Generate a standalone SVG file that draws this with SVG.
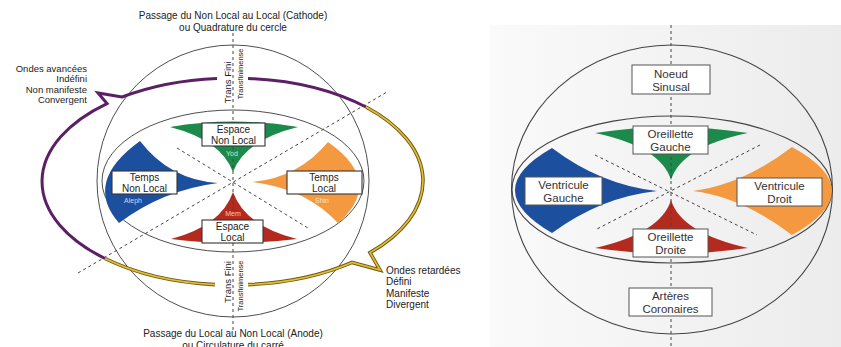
<svg xmlns="http://www.w3.org/2000/svg" width="841" height="347" viewBox="0 0 841 347">
<defs>
<linearGradient id="bg" x1="0" y1="0" x2="1" y2="0">
<stop offset="0" stop-color="#fafafa"/>
<stop offset="1" stop-color="#ececec"/>
</linearGradient>
<style>
.ol{fill:none;stroke:#3a3a3a;stroke-width:0.9}
.olr{fill:none;stroke:#444;stroke-width:1.1}
.dash{fill:none;stroke:#444;stroke-width:1;stroke-dasharray:3 3}
.box{fill:#fff;stroke:#333;stroke-width:1.1}
.boxr{fill:#fff;stroke:#555;stroke-width:1}
.t{font-family:"Liberation Sans",Arial,sans-serif;fill:#222}
.c{text-anchor:middle}
.e{text-anchor:end}
.lb{font-size:10px}
.rb{font-size:11.5px;fill:#333}
.sm{font-size:7px}
.cap{font-size:10px}
.purple{fill:none;stroke:#5c1f66;stroke-width:3;stroke-linejoin:miter}
.goldo{fill:none;stroke:#6e5c18;stroke-width:3.6;stroke-linejoin:miter}
.goldi{fill:none;stroke:#e8bc34;stroke-width:1.6;stroke-linejoin:miter}
</style>
</defs>
<rect width="841" height="347" fill="#fff"/>

<!-- LEFT PANEL -->
<g id="left-frame">
<circle class="ol" cx="233" cy="181" r="136"/>
<ellipse class="ol" cx="233" cy="181" rx="131" ry="71"/>
</g>

<g id="left-wedges">
<path id="wedge-green" fill="#1b8a4a" d="M170,127 Q233,116 298,127 Q245,140 233,172 Q221,140 170,127 Z"/>
<path id="wedge-red" fill="#b52a1e" d="M171,239 Q233,247 297,239 Q245,226 233,192 Q221,226 171,239 Z"/>
<path id="wedge-blue" fill="#1d4f9f" d="M140,141 Q170,180 218,183 Q163,190 119,223 Q83,182 140,141 Z"/>
<path id="wedge-orange" fill="#f4993f" d="M328,142 Q298,178 252,182 Q305,188 338,223 Q385,182 328,142 Z"/>
</g>

<g id="connectors">
<line class="dash" x1="233" y1="33" x2="233" y2="330"/>
<line class="dash" x1="78" y1="273" x2="387" y2="92"/>
<line class="dash" x1="177" y1="148" x2="308" y2="228"/>
<path class="purple" d="M366,107 A190,103.5 0 0 0 248,78.4 M217,78.4 A190,103.5 0 0 0 122,97 L98,93 L107,103.6 A190,103.5 0 0 0 105,258.5"/>
<path class="goldo" d="M105,258.5 A190,103.5 0 0 0 215,284.6 M248,284.6 A190,103.5 0 0 0 352,262.4 L380,270 L370,252.6 A190,103.5 0 0 0 366,107"/>
<path class="goldi" d="M105,258.5 A190,103.5 0 0 0 215,284.6 M248,284.6 A190,103.5 0 0 0 352,262.4 L380,270 L370,252.6 A190,103.5 0 0 0 366,107"/>
</g>

<g id="node-espace-non-local">
<rect class="box" x="202" y="123" width="63" height="23"/>
<text class="t c lb" x="233.5" y="133">Espace</text>
<text class="t c lb" x="233.5" y="143.5">Non Local</text>
<text class="t c sm" x="232" y="155.5" style="fill:#cfe6d2">Yod</text>
</g>
<g id="node-temps-non-local">
<rect class="box" x="112" y="171" width="65" height="23"/>
<text class="t c lb" x="144.5" y="181">Temps</text>
<text class="t c lb" x="144.5" y="191.5">Non Local</text>
<text class="t c sm" x="133" y="202.5" style="fill:#c8d6f0">Aleph</text>
</g>
<g id="node-temps-local">
<rect class="box" x="287" y="171" width="75" height="23"/>
<text class="t c lb" x="324" y="181">Temps</text>
<text class="t c lb" x="324" y="191.5">Local</text>
<text class="t c sm" x="322" y="202.5" style="fill:#fde2c4">Shin</text>
</g>
<g id="node-espace-local">
<text class="t c sm" x="233" y="215.5" style="fill:#f4c8bc">Mem</text>
<rect class="box" x="202" y="220" width="61" height="23"/>
<text class="t c lb" x="232.5" y="230">Espace</text>
<text class="t c lb" x="232.5" y="240.5">Local</text>
</g>

<g id="node-trans-fini-top">
<text class="t c" style="font-size:9.5px" transform="translate(230.5,82.5) rotate(-90)">Trans Fini</text>
<text class="t c" style="font-size:7.5px" transform="translate(242.5,74) rotate(-90)">Transfinimense</text>
</g>
<g id="node-trans-fini-bottom">
<text class="t c" style="font-size:9.5px" transform="translate(230.5,282) rotate(-90)">Trans Fini</text>
<text class="t c" style="font-size:7.5px" transform="translate(242.5,286) rotate(-90)">Transfinimense</text>
</g>

<g id="node-cathode">
<text class="t c cap" x="233" y="19">Passage du Non Local au Local (Cathode)</text>
<text class="t c cap" x="233" y="31">ou Quadrature du cercle</text>
</g>
<g id="node-anode">
<text class="t c cap" x="233" y="337">Passage du Local au Non Local (Anode)</text>
<text class="t c cap" x="233" y="348.5">ou Circulature du carré</text>
</g>
<g id="node-ondes-avancees">
<text class="t e" style="font-size:9.5px" x="87" y="71.5">Ondes avancées</text>
<text class="t e" style="font-size:9.5px" x="87" y="82">Indéfini</text>
<text class="t e" style="font-size:9.5px" x="87" y="92.5">Non manifeste</text>
<text class="t e" style="font-size:9.5px" x="87" y="103">Convergent</text>
</g>
<g id="node-ondes-retardees">
<text class="t" style="font-size:10px" x="386" y="273.5">Ondes retardées</text>
<text class="t" style="font-size:10px" x="386" y="285">Défini</text>
<text class="t" style="font-size:10px" x="386" y="296.5">Manifeste</text>
<text class="t" style="font-size:10px" x="386" y="308">Divergent</text>
</g>

<!-- RIGHT PANEL -->
<g id="right-frame">
<rect x="490" y="25" width="351" height="322" fill="url(#bg)"/>
<ellipse class="olr" cx="672" cy="189.5" rx="160.5" ry="144.5"/>
<ellipse class="olr" cx="672" cy="189.5" rx="160" ry="73.5"/>
</g>
<g id="right-wedges">
<path id="r-green" fill="#1b8a4a" d="M595,133 Q671,121 748,133 Q681,147 671,180 Q661,147 595,133 Z"/>
<path id="r-red" fill="#b52a1e" d="M595,248 Q671,259 748,248 Q681,233 671,200 Q661,233 595,248 Z"/>
<path id="r-blue" fill="#1d4f9f" d="M552,148 Q601,185 657,191 Q601,197 552,233 Q478,190 552,148 Z"/>
<path id="r-orange" fill="#f4993f" d="M792,147 Q742,185 693,191 Q742,197 792,235 Q872,191 792,147 Z"/>
</g>
<g id="right-connectors">
<line class="dash" x1="671" y1="25" x2="671" y2="347"/>
<line class="dash" x1="595" y1="155" x2="757" y2="235"/>
<line class="dash" x1="760" y1="145" x2="595" y2="230"/>
</g>
<g id="node-noeud-sinusal">
<rect class="boxr" x="632" y="65" width="78" height="29"/>
<text class="t c rb" x="671" y="77.5">Noeud</text>
<text class="t c rb" x="671" y="90.5">Sinusal</text>
</g>
<g id="node-oreillette-gauche">
<rect class="boxr" x="633" y="126" width="75" height="28"/>
<text class="t c rb" x="670.5" y="137.5">Oreillette</text>
<text class="t c rb" x="670.5" y="150.5">Gauche</text>
</g>
<g id="node-ventricule-gauche">
<rect class="boxr" x="525" y="177" width="77" height="28"/>
<text class="t c rb" x="563.5" y="188.5">Ventricule</text>
<text class="t c rb" x="563.5" y="201.5">Gauche</text>
</g>
<g id="node-ventricule-droit">
<rect class="boxr" x="737" y="178" width="85" height="28"/>
<text class="t c rb" x="779.5" y="189.5">Ventricule</text>
<text class="t c rb" x="779.5" y="202.5">Droit</text>
</g>
<g id="node-oreillette-droite">
<rect class="boxr" x="633" y="229" width="75" height="28"/>
<text class="t c rb" x="670.5" y="240.5">Oreillette</text>
<text class="t c rb" x="670.5" y="253.5">Droite</text>
</g>
<g id="node-arteres-coronaires">
<rect class="boxr" x="629" y="288" width="83" height="28"/>
<text class="t c rb" x="670.5" y="299.5">Artères</text>
<text class="t c rb" x="670.5" y="312.5">Coronaires</text>
</g>
</svg>
